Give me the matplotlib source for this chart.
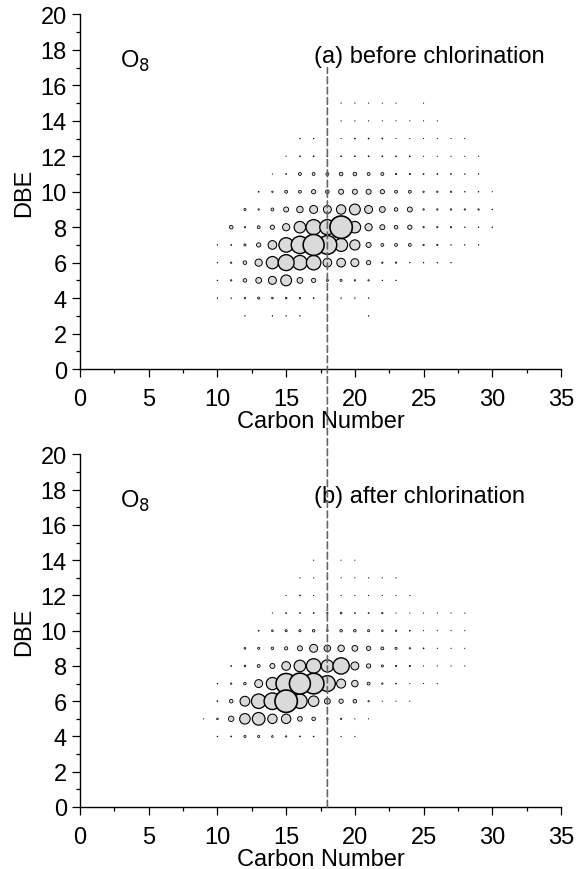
import numpy as np
import matplotlib
matplotlib.use("Agg")
import matplotlib.pyplot as plt
from matplotlib.ticker import MultipleLocator
from matplotlib.patches import ConnectionPatch

plt.rcParams['font.family'] = ['Liberation Sans', 'DejaVu Sans']

# carbon numbers (columns) and DBE values (rows, top to bottom)
carbon = list(range(9, 31))
dbe = list(range(15, 2, -1))

# relative abundance (%)
before_chlorination = [
    # C9  10   11   12   13    14    15    16    17    18    19    20    21    22   23   24   25   26   27   28   29   30
    [0,   0,   0,   0,   0,    0,    0,    0,    0,    0,    .05,  .05,  .05,  .05, .05, 0,   .05, 0,   0,   0,   0,   0],    # 15
    [0,   0,   0,   0,   0,    0,    0,    0,    0,    0,    .05,  .05,  .05,  .05, .05, .05, .05, .05, 0,   0,   0,   0],    # 14
    [0,   0,   0,   0,   0,    0,    0,    .1,   .1,   .05,  .05,  .2,   .2,   .2,  .05, .05, .05, .05, .05, .05, 0,   0],    # 13
    [0,   0,   0,   0,   0,    0,    .05,  .2,   .2,   .2,   .2,   .2,   .2,   .2,  .2,  .2,  .05, .05, .05, .05, .05, 0],    # 12
    [0,   0,   0,   0,   0,    .05,  .2,   1.7,  1.7,  1.7,  2.6,  2.6,  1.7,  1.7, .4,  .4,  .2,  .2,  .2,  .1,  .1,  0],    # 11
    [0,   0,   0,   0,   .2,   .4,   1.7,  1.7,  3.7,  2.6,  5.1,  5.1,  5.1,  3.7, 1.7, 1.7, .4,  .4,  .4,  .1,  .1,  .05],  # 10
    [0,   0,   0,   .9,  .4,   1.7,  5.1,  8.4,  12.6, 12.6, 17.6, 23.4, 12.6, 6.7, 2.6, 5.1, .4,  .4,  .4,  .4,  .4,  .1],   # 9
    [0,   0,   2.6, .4,  1.7,  3.7,  10.4, 26.6, 45.9, 45.9, 100,  26.6, 10.4, 5.1, 2.6, 3.7, .4,  .4,  .4,  .1,  .1,  .1],   # 8
    [0,   .1,  .2,  .9,  3.7,  15,   41.6, 60,   87.5, 70.3, 33.7, 20.4, 5.1,  1.7, 1.7, 1.7, .4,  .4,  .1,  .1,  .1,  0],    # 7
    [0,   .1,  .4,  2.6, 10.4, 30,   50.4, 41.6, 41.6, 15,   15,   12.6, 3.7,  .4,  .4,  .1,  .1,  .1,  .1,  0,   0,   0],    # 6
    [0,   .1,  .4,  2.6, 6.7,  12.6, 23.4, 6.7,  3.7,  .9,   .9,   .4,   .4,   .1,  .1,  0,   0,   0,   0,   0,   0,   0],    # 5
    [0,   .1,  .1,  .4,  .9,   .6,   .6,   .4,   .2,   .1,   .1,   .1,   .1,   0,   0,   0,   0,   0,   0,   0,   0,   0],    # 4
    [0,   0,   0,   .1,  0,    .1,   .1,   .1,   0,    0,    0,    0,    .1,   0,   0,   0,   0,   0,   0,   0,   0,   0],    # 3
]

after_chlorination = [
    # C9  10   11   12   13    14    15    16    17    18    19    20    21    22   23   24   25   26   27   28   29   30
    [0,   0,   0,   0,   0,    0,    0,    0,    0,    0,    0,    0,    0,    0,   0,   0,   0,   0,   0,   0,   0,   0],    # 15
    [0,   0,   0,   0,   0,    0,    0,    0,    .05,  0,    .05,  .05,  0,    0,   0,   0,   0,   0,   0,   0,   0,   0],    # 14
    [0,   0,   0,   0,   0,    0,    0,    .05,  .05,  .05,  .05,  .05,  .05,  .05, .05, 0,   0,   0,   0,   0,   0,   0],    # 13
    [0,   0,   0,   0,   0,    0,    .05,  .2,   .05,  .05,  .05,  .05,  .05,  .05, .05, .05, 0,   0,   0,   0,   0,   0],    # 12
    [0,   0,   0,   0,   0,    .05,  .2,   .2,   .2,   .4,   .6,   .2,   .2,   .4,  .05, .05, .05, .05, .05, .05, 0,   0],    # 11
    [0,   0,   0,   0,   .2,   .6,   .9,   .9,   1.3,  .6,   1.3,  1.3,  .9,   .6,  .4,  .2,  .05, .05, .05, .05, 0,   0],    # 10
    [0,   0,   0,   .6,  .9,   1.3,  2.1,  5.1,  12.6, 8.4,  8.4,  6.7,  3.7,  1.7, .9,  .4,  .2,  .05, .05, .05, 0,   0],    # 9
    [0,   0,   .2,  .6,  1.7,  5.1,  15,   26.6, 41.6, 30,   52.7, 12.6, 3.7,  .9,  .4,  .4,  .05, .05, .05, .05, 0,   0],    # 8
    [0,   .1,  .4,  1.3, 12.6, 30,   81.6, 87.5, 84.5, 50.4, 16.3, 8.4,  1.7,  .4,  .2,  .05, .05, .05, 0,   0,   0,   0],    # 7
    [0,   .2,  2.6, 19,  41.6, 55,   100,  41.6, 21.9, 6.7,  3.7,  2.6,  .4,   .05, .05, .05, 0,   0,   0,   0,   0,   0],    # 6
    [.05, .6,  5.9, 21.9, 31.9, 17.6, 17.6, 4.4, 2.6,  .4,   .4,   .05,  .05,  0,   0,   0,   0,   0,   0,   0,   0,   0],    # 5
    [0,   .1,  .2,  .9,  .9,   .6,   .4,   .2,   .15,  0,    .05,  .05,  0,    0,   0,   0,   0,   0,   0,   0,   0,   0],    # 4
    [0,   0,   0,   0,   0,    0,    0,    0,    0,    0,    0,    0,    0,    0,   0,   0,   0,   0,   0,   0,   0,   0],    # 3
]

panel_titles = ["(a) before chlorination", "(b) after chlorination"]
class_label = "O$_8$"


def bubble_panel(ax, grid, title):
    cc, dd = np.meshgrid(carbon, dbe)
    vals = np.array(grid, dtype=float)
    m = vals > 0
    x, y, v = cc[m], dd[m], vals[m]
    order = np.argsort(v)
    x, y, v = x[order], y[order], v[order]
    lw = 0.45 + 0.75 * np.sqrt(v / 100)
    ax.scatter(x, y, s=2.6 * v, c="#dadada", edgecolors="black", linewidths=lw, zorder=3)

    ax.set_xlim(0, 35)
    ax.set_ylim(0, 20)
    ax.patch.set_alpha(0)
    for side in ["top", "right"]:
        ax.spines[side].set_visible(False)
    for side in ["left", "bottom"]:
        ax.spines[side].set_linewidth(1.0)
    ax.xaxis.set_major_locator(MultipleLocator(5))
    ax.xaxis.set_minor_locator(MultipleLocator(2.5))
    ax.yaxis.set_major_locator(MultipleLocator(2))
    ax.yaxis.set_minor_locator(MultipleLocator(1))
    ax.tick_params(which="major", direction="out", length=5.5, width=0.9, labelsize=17)
    ax.tick_params(which="minor", direction="out", length=3, width=0.9)
    ax.tick_params(axis="x", which="major", pad=8)
    ax.tick_params(axis="y", which="major", pad=4)
    ax.set_xlabel("Carbon Number", fontsize=17, labelpad=0.5)
    ax.set_ylabel("DBE", fontsize=17, labelpad=4)
    ax.text(2.9, 17.4, class_label, fontsize=17, va="center", ha="left")
    ax.text(17.05, 17.65, title, fontsize=17, va="center", ha="left")


fig = plt.figure(figsize=(5.79, 8.70), dpi=100)
ax_a = fig.add_axes([0.1382, 0.5747, 0.8307, 0.4075])
ax_b = fig.add_axes([0.1382, 0.0713, 0.8307, 0.4052])

bubble_panel(ax_a, before_chlorination, panel_titles[0])
bubble_panel(ax_b, after_chlorination, panel_titles[1])

# dashed reference line at C18, running through both panels
con = ConnectionPatch(xyA=(18, 0), coordsA=ax_b.transData,
                      xyB=(18, 17.0), coordsB=ax_a.transData,
                      color="0.4", lw=1.2, linestyle=(0, (4, 2.2)))
fig.add_artist(con)

fig.savefig("out.png", dpi=100)
